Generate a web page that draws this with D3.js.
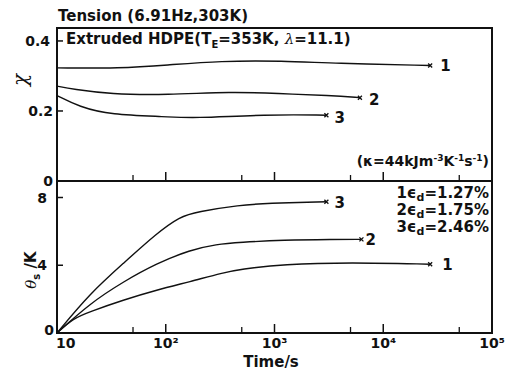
<!DOCTYPE html>
<html><head><meta charset="utf-8">
<script src="https://cdn.jsdelivr.net/npm/d3@7"></script>
<style>body{margin:0;background:#fff}text{font-family:"DejaVu Sans",sans-serif;font-weight:bold;fill:#111}</style>
</head><body><svg id="c" width="515" height="370"></svg>
<script>
// Data
const xTicksMajor = [10, 100, 1000, 10000, 100000];
const xTicksMinor = [50, 500, 5000, 50000];
const xTickLabels = ["10", "10²", "10³", "10⁴", "10⁵"];
const chiTicks = [0, 0.2, 0.4];
const chiTickLabels = ["0", "0.2", "0.4"];
const thetaTicks = [0, 4, 8];
const thetaTickLabels = ["0", "4", "8"];
// top panel: chi vs time
const chi1_t = [10, 38, 102, 316, 1200, 3500, 27000];
const chi1_v = [0.323, 0.322, 0.331, 0.343, 0.343, 0.336, 0.330];
const chi2_t = [10, 14, 31, 102, 410, 1050, 3300, 6100];
const chi2_v = [0.271, 0.262, 0.248, 0.246, 0.255, 0.250, 0.244, 0.238];
const chi3_t = [10, 16, 31, 102, 175, 840, 3000];
const chi3_v = [0.244, 0.212, 0.189, 0.184, 0.179, 0.190, 0.188];
// bottom panel: theta_s vs time
const th1_t = [10, 14.1, 20.1, 40.7, 82.6, 167, 338, 482, 1200, 5000, 27000];
const th1_v = [0, 0.87, 1.26, 1.95, 2.54, 3.03, 3.56, 3.76, 4.06, 4.17, 4.06];
const th2_t = [10, 20.1, 40.7, 82.6, 167, 293, 482, 1200, 3500, 6300];
const th2_v = [0, 1.75, 3.03, 4.11, 4.90, 5.24, 5.35, 5.49, 5.53, 5.53];
const th3_t = [10, 20.1, 40.7, 82.6, 135, 193, 482, 850, 3000];
const th3_v = [0, 2.34, 4.11, 5.89, 6.87, 7.16, 7.55, 7.66, 7.75];
const curveNames = ["1", "2", "3"];
const legendLines = ["1", "2", "3"];
const legendVals = ["1.27%", "1.75%", "2.46%"];

const svg = d3.select("#c");
const L = 57, R = 492, T = 28, M = 181, B = 333;
const x = d3.scaleLog().domain([10, 1e5]).range([L, R]);
const yTop = d3.scaleLinear().domain([0, 0.437]).range([M, T]);
const yBot = d3.scaleLinear().domain([0, 8]).range([B, 197.5]);

const ink = "#111";
// frame
svg.append("rect").attr("x", L).attr("y", T).attr("width", R - L).attr("height", B - T)
  .attr("fill", "none").attr("stroke", ink).attr("stroke-width", 2);
svg.append("line").attr("x1", L).attr("x2", R).attr("y1", M).attr("y2", M)
  .attr("stroke", ink).attr("stroke-width", 2);

// x ticks (inward on bottom axis and on divider, pointing up)
function xTicks(yBase) {
  const g = svg.append("g");
  g.selectAll(".maj").data(xTicksMajor.slice(1, -1)).enter().append("line")
    .attr("x1", d => x(d)).attr("x2", d => x(d)).attr("y1", yBase).attr("y2", yBase - 9)
    .attr("stroke", ink).attr("stroke-width", 1.5);
  g.selectAll(".min").data(xTicksMinor).enter().append("line")
    .attr("x1", d => x(d)).attr("x2", d => x(d)).attr("y1", yBase).attr("y2", yBase - 6)
    .attr("stroke", ink).attr("stroke-width", 1.3);
}
xTicks(B); xTicks(M);

svg.selectAll(".xl").data(xTicksMajor).enter().append("text")
  .attr("x", (d, i) => i === 0 ? x(d) - 1 : x(d))
  .attr("y", 348).attr("text-anchor", (d, i) => i === 0 ? "start" : "middle")
  .attr("font-size", 14).text((d, i) => xTickLabels[i]);
svg.append("text").attr("x", 271).attr("y", 367).attr("text-anchor", "middle")
  .attr("font-size", 15).text("Time/s");

// y ticks
svg.selectAll(".yt").data(chiTicks.slice(1)).enter().append("line")
  .attr("x1", L).attr("x2", L + 6).attr("y1", d => yTop(d)).attr("y2", d => yTop(d))
  .attr("stroke", ink).attr("stroke-width", 1.5);
svg.selectAll(".ytl").data(chiTicks).enter().append("text")
  .attr("x", (d, i) => i === 2 ? L - 7 : L - 4).attr("y", d => yTop(d) + 5).attr("text-anchor", "end")
  .attr("font-size", 14).text((d, i) => chiTickLabels[i]);
svg.selectAll(".yb").data(thetaTicks.slice(1)).enter().append("line")
  .attr("x1", L).attr("x2", L + 6).attr("y1", d => yBot(d)).attr("y2", d => yBot(d))
  .attr("stroke", ink).attr("stroke-width", 1.5);
svg.selectAll(".ybl").data(thetaTicks).enter().append("text")
  .attr("x", (d, i) => i === 0 ? L - 3 : L - 10).attr("y", (d, i) => yBot(d) + (i === 0 ? 2 : 5)).attr("text-anchor", "end")
  .attr("font-size", 14).text((d, i) => thetaTickLabels[i]);

// axis titles
svg.append("text").attr("transform", "translate(27,80) rotate(-90)").attr("text-anchor", "middle")
  .attr("font-size", 20).style("font-style", "italic").style("font-weight", "normal")
  .style("font-family", "DejaVu Serif").text("χ");
const yl = svg.append("text").attr("transform", "translate(36,270) rotate(-90)").attr("text-anchor", "middle")
  .attr("font-size", 15);
yl.append("tspan").style("font-style", "italic").style("font-family", "DejaVu Serif").style("font-weight", "normal").text("θ");
yl.append("tspan").attr("font-size", 10).attr("dy", 4).text("s");
yl.append("tspan").attr("dy", -4).text(" /K");

// titles
svg.append("text").attr("x", 58).attr("y", 21).attr("font-size", 15).text("Tension (6.91Hz,303K)");
const t2 = svg.append("text").attr("x", 66).attr("y", 44).attr("font-size", 15);
t2.append("tspan").text("Extruded HDPE(T");
t2.append("tspan").attr("font-size", 10).attr("dy", 4).text("E");
t2.append("tspan").attr("dy", -4).text("=353K, ");
t2.append("tspan").style("font-style", "italic").style("font-family", "DejaVu Serif").style("font-weight", "normal").text("λ");
t2.append("tspan").text("=11.1)");

const kap = svg.append("text").attr("x", 489).attr("y", 166).attr("text-anchor", "end").attr("font-size", 14);
kap.append("tspan").text("(κ=44kJm");
kap.append("tspan").attr("font-size", 9).attr("dy", -5).text("-3");
kap.append("tspan").attr("dy", 5).text("K");
kap.append("tspan").attr("font-size", 9).attr("dy", -5).text("-1");
kap.append("tspan").attr("dy", 5).text("s");
kap.append("tspan").attr("font-size", 9).attr("dy", -5).text("-1");
kap.append("tspan").attr("dy", 5).text(")");

// legend text
legendLines.forEach((n, i) => {
  const t = svg.append("text").attr("x", 489).attr("y", 198 + i * 17).attr("text-anchor", "end").attr("font-size", 15);
  t.append("tspan").text(n + "ϵ");
  t.append("tspan").attr("font-size", 11).attr("dy", 3).text("d");
  t.append("tspan").attr("dy", -3).text("=" + legendVals[i]);
});

// curves
function curve(ts, vs, ys, name, dx, dy) {
  const pts = ts.map((t, i) => [x(t), ys(vs[i])]);
  const line = d3.line().curve(d3.curveBasis);
  svg.append("path").attr("d", line(pts)).attr("fill", "none").attr("stroke", ink).attr("stroke-width", 1.4);
  const [ex, ey] = pts[pts.length - 1];
  svg.append("path").attr("d", `M${ex - 2},${ey - 2}L${ex + 2},${ey + 2}M${ex - 2},${ey + 2}L${ex + 2},${ey - 2}`)
    .attr("stroke", ink).attr("stroke-width", 1.3);
  svg.append("text").attr("x", ex + dx).attr("y", ey + dy).attr("font-size", 15).text(name);
}
curve(chi1_t, chi1_v, yTop, curveNames[0], 10, 6);
curve(chi2_t, chi2_v, yTop, curveNames[1], 9, 7);
curve(chi3_t, chi3_v, yTop, curveNames[2], 8, 8);
curve(th1_t, th1_v, yBot, curveNames[0], 12, 6);
curve(th2_t, th2_v, yBot, curveNames[1], 4, 6);
curve(th3_t, th3_v, yBot, curveNames[2], 8, 6);
</script></body></html>
